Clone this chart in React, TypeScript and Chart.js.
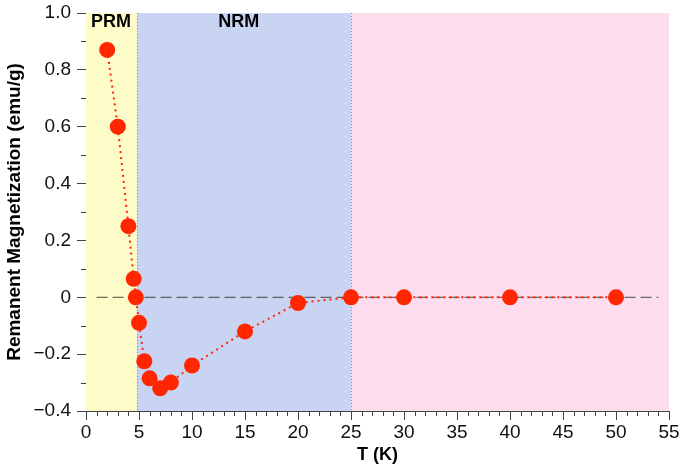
import React, { useEffect, useRef } from "react";
import { Chart, registerables } from "chart.js";

Chart.register(...registerables);

// ---- data ----
const temperatures = [2, 3, 4, 4.5, 4.7, 5, 5.5, 6, 7, 8, 10, 15, 20, 25, 30, 40, 50];
const magnetization = [0.87, 0.6, 0.25, 0.065, 0.0, -0.09, -0.225, -0.285, -0.32, -0.3, -0.24, -0.12, -0.02, 0, 0, 0, 0];
const zeroLineX = [1, 54];
const zeroLineY = [0, 0];

const xTickValues = [0, 5, 10, 15, 20, 25, 30, 35, 40, 45, 50, 55];
const xTickLabels = ["0", "5", "10", "15", "20", "25", "30", "35", "40", "45", "50", "55"];
const yTickValues = [-0.4, -0.2, 0, 0.2, 0.4, 0.6, 0.8, 1.0];
const yTickLabels = ["\u22120.4", "\u22120.2", "0", "0.2", "0.4", "0.6", "0.8", "1.0"];

const regionNames = ["PRM", "NRM", ""];
const regionStarts = [0, 4.8, 25];
const regionEnds = [4.8, 25, 55];
const regionLabelX = [2.35, 14.4, 40];
const regionColors = ["#fdfcc9", "#c9d4f2", "#fddcee"];

const FONT = "'Liberation Sans', Arial, Helvetica, sans-serif";
const RED = "#ff2600";
const AXIS = "#444444";

const bandsPlugin = {
  id: "bands",
  beforeDatasetsDraw(chart: any) {
    const { ctx, chartArea, scales } = chart;
    const xs = scales.x;
    ctx.save();
    for (let i = 0; i < regionStarts.length; i++) {
      const x1 = xs.getPixelForValue(regionStarts[i]);
      const x2 = xs.getPixelForValue(regionEnds[i]);
      ctx.fillStyle = regionColors[i];
      ctx.fillRect(x1, chartArea.top, x2 - x1, chartArea.bottom - chartArea.top);
    }
    ctx.strokeStyle = "#8a8a9a";
    ctx.lineWidth = 1;
    ctx.setLineDash([1, 2]);
    for (let i = 1; i < regionStarts.length; i++) {
      const x = Math.round(xs.getPixelForValue(regionStarts[i])) + 0.5;
      ctx.beginPath();
      ctx.moveTo(x, chartArea.top);
      ctx.lineTo(x, chartArea.bottom);
      ctx.stroke();
    }
    ctx.setLineDash([]);
    ctx.fillStyle = "#000";
    ctx.font = `bold 18px ${FONT}`;
    ctx.textAlign = "center";
    ctx.textBaseline = "middle";
    for (let i = 0; i < regionNames.length; i++) {
      if (!regionNames[i]) continue;
      ctx.fillText(regionNames[i], xs.getPixelForValue(regionLabelX[i]), chartArea.top + 9);
    }
    ctx.restore();
  },
  afterDraw(chart: any) {
    const { ctx, chartArea, scales } = chart;
    const xs = scales.x;
    const ys = scales.y;
    ctx.save();
    ctx.strokeStyle = AXIS;
    ctx.lineWidth = 1;
    ctx.beginPath();
    for (let v = 0; v <= 55; v++) {
      if (v % 5 === 0) continue;
      const x = Math.round(xs.getPixelForValue(v)) + 0.5;
      ctx.moveTo(x, chartArea.bottom);
      ctx.lineTo(x, chartArea.bottom + 5);
    }
    for (let k = -4; k <= 10; k++) {
      if (k % 2 === 0) continue;
      const y = Math.round(ys.getPixelForValue(k / 10)) + 0.5;
      ctx.moveTo(chartArea.left, y);
      ctx.lineTo(chartArea.left - 5, y);
    }
    ctx.stroke();
    ctx.restore();
  },
};

export default function App() {
  const canvasRef = useRef<HTMLCanvasElement | null>(null);

  useEffect(() => {
    if (!canvasRef.current) return;
    const chart = new Chart(canvasRef.current, {
      type: "scatter",
      data: {
        datasets: [
          {
            data: temperatures.map((t, i) => ({ x: t, y: magnetization[i] })),
            showLine: true,
            borderColor: RED,
            borderWidth: 2,
            borderDash: [2, 4],
            backgroundColor: RED,
            pointBackgroundColor: RED,
            pointBorderColor: RED,
            pointRadius: 8,
            pointBorderWidth: 0,
          },
          {
            data: zeroLineX.map((x, i) => ({ x, y: zeroLineY[i] })),
            showLine: true,
            borderColor: "#444444",
            borderWidth: 1,
            borderDash: [11, 5],
            pointRadius: 0,
          },
        ],
      },
      options: {
        responsive: false,
        animation: false,
        layout: { padding: { left: 0, right: 16, top: 13, bottom: 0 } },
        plugins: { legend: { display: false }, tooltip: { enabled: false } },
        scales: {
          x: {
            type: "linear",
            min: 0,
            max: 55,
            afterBuildTicks: (s: any) => {
              s.ticks = xTickValues.map((v) => ({ value: v }));
            },
            afterFit: (s: any) => {
              s.height = 62;
              s.paddingLeft = 0;
              s.paddingRight = 0;
            },
            ticks: {
              callback: (_v: any, i: number) => xTickLabels[i],
              color: "#111",
              font: { family: FONT, size: 19 },
              padding: 1,
              maxRotation: 0,
              autoSkip: false,
            },
            grid: { drawOnChartArea: false, drawTicks: true, tickLength: 9, tickColor: AXIS },
            border: { display: true, color: AXIS, width: 1 },
            title: {
              display: true,
              text: "T (K)",
              color: "#000",
              font: { family: FONT, size: 18, weight: "bold" },
              padding: { top: 0, bottom: 7 },
            },
          },
          y: {
            type: "linear",
            min: -0.4,
            max: 1.0,
            afterBuildTicks: (s: any) => {
              s.ticks = yTickValues.map((v) => ({ value: v }));
            },
            afterFit: (s: any) => {
              s.width = 86;
              s.paddingTop = 0;
              s.paddingBottom = 0;
            },
            ticks: {
              callback: (_v: any, i: number) => yTickLabels[i],
              color: "#111",
              font: { family: FONT, size: 19 },
              padding: 6,
              autoSkip: false,
            },
            grid: { drawOnChartArea: false, drawTicks: true, tickLength: 9, tickColor: AXIS },
            border: { display: true, color: AXIS, width: 1 },
            title: {
              display: true,
              text: "Remanent Magnetization (emu/g)",
              color: "#000",
              font: { family: FONT, size: 19, weight: "bold" },
              padding: { top: 3, bottom: 0 },
            },
          },
        },
      },
      plugins: [bandsPlugin],
    });
    return () => chart.destroy();
  }, []);

  return (
    <div style={{ position: "absolute", left: 0, top: 0, width: 685, height: 473, background: "#fff" }}>
      <canvas ref={canvasRef} width={685} height={473} />
    </div>
  );
}
